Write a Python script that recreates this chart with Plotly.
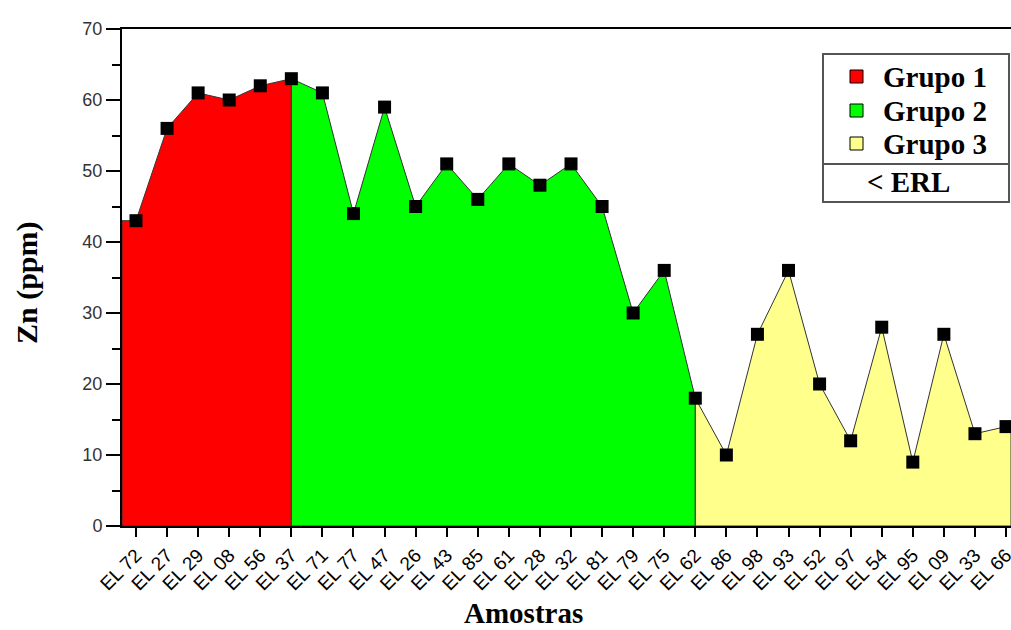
import plotly.graph_objects as go

# ---- data ----
samples = ["EL 72", "EL 27", "EL 29", "EL 08", "EL 56", "EL 37", "EL 71", "EL 77", "EL 47",
           "EL 26", "EL 43", "EL 85", "EL 61", "EL 28", "EL 32", "EL 81", "EL 79", "EL 75",
           "EL 62", "EL 86", "EL 98", "EL 93", "EL 52", "EL 97", "EL 54", "EL 95", "EL 09",
           "EL 33", "EL 66"]
zn_ppm = [43, 56, 61, 60, 62, 63, 61, 44, 59, 45, 51, 46, 51, 48, 51, 45, 30, 36,
          18, 10, 27, 36, 20, 12, 28, 9, 27, 13, 14]
group_names = ["Grupo 1", "Grupo 2", "Grupo 3"]
group_first = [0, 5, 18]     # first sample index of each group band
group_last = [5, 18, 28]     # last sample index of each group band
group_colors = ["#FF0000", "#00FF00", "#FFFF8C"]
y_ticks = [0, 10, 20, 30, 40, 50, 60, 70]

# ---- layout constants ----
X_LEFT, X_RIGHT = -0.45, 28.16
SERIF = "Liberation Serif, Times New Roman, serif"
SANS = "Liberation Sans, Arial, sans-serif"

W, H = 1011, 630
L, R, T, B = 122, 0, 29, 104
pw, ph = W - L - R, H - T - B


def px2paper(x, y):
    return (x - L) / pw, (H - B - y) / ph


fig = go.Figure()

xs_all = list(range(len(samples)))
for gi, name in enumerate(group_names):
    a, b = group_first[gi], group_last[gi]
    xs = xs_all[a:b + 1]
    ys = zn_ppm[a:b + 1]
    if gi == 0:
        xs = [X_LEFT] + xs
        ys = [ys[0]] + ys
    if gi == len(group_names) - 1:
        xs = xs + [X_RIGHT]
        ys = ys + [ys[-1]]
    px = [xs[0]] + xs + [xs[-1], xs[0]]
    py = [0] + ys + [0, 0]
    fig.add_trace(go.Scatter(
        x=px, y=py, mode="lines", fill="toself", fillcolor=group_colors[gi],
        line=dict(color="#333333", width=1), name=name, showlegend=False,
        hoverinfo="skip"))

fig.add_trace(go.Scatter(
    x=xs_all, y=zn_ppm, mode="markers",
    marker=dict(symbol="square", size=13, color="black", line=dict(width=0)),
    showlegend=False, cliponaxis=False))

fig.update_xaxes(
    range=[X_LEFT, X_RIGHT], tickmode="array", tickvals=xs_all, ticktext=samples,
    tickangle=-45, ticks="outside", ticklen=9, tickwidth=2, tickcolor="black",
    showline=True, linecolor="black", linewidth=1.5, mirror=True,
    showgrid=False, zeroline=False, automargin=False, ticklabeloverflow="allow",
    tickfont=dict(family=SANS, size=19, color="black"))
fig.update_yaxes(
    range=[0, 70], tickmode="array", tickvals=y_ticks,
    ticks="outside", ticklen=14, tickwidth=1.5, tickcolor="black",
    minor=dict(dtick=5, ticks="outside", ticklen=8, tickwidth=1.5, tickcolor="black"),
    showline=True, linecolor="black", linewidth=2,
    showgrid=False, zeroline=False, automargin=False,
    tickfont=dict(family=SANS, size=18, color="#333333"))

ann = []
xa, ya = px2paper(523, 613)
ann.append(dict(text="<b>Amostras</b>", x=xa, y=ya, xref="paper", yref="paper",
                showarrow=False, xanchor="center", yanchor="middle",
                font=dict(family=SERIF, size=29, color="black")))
xa, ya = px2paper(27, 283)
ann.append(dict(text="<b>Zn (ppm)</b>", textangle=-90, x=xa, y=ya, xref="paper",
                yref="paper", showarrow=False, xanchor="center", yanchor="middle",
                font=dict(family=SERIF, size=30, color="black")))

# legend box (manual, to reproduce the "< ERL" row)
shapes = []
bx0, by0 = px2paper(823, 54)
bx1, by1 = px2paper(1009, 202)
shapes.append(dict(type="rect", xref="paper", yref="paper", x0=bx0, y0=by1, x1=bx1, y1=by0,
                   line=dict(color="#555555", width=2), fillcolor="white", layer="above"))
dx0, dy = px2paper(823, 164)
shapes.append(dict(type="line", xref="paper", yref="paper", x0=bx0, y0=dy, x1=bx1, y1=dy,
                   line=dict(color="#555555", width=2), layer="above"))
entry_y = [77, 111, 144]
for gi, name in enumerate(group_names):
    sx0, sy0 = px2paper(850, entry_y[gi] - 7)
    sx1, sy1 = px2paper(863, entry_y[gi] + 6)
    shapes.append(dict(type="rect", xref="paper", yref="paper", x0=sx0, y0=sy1, x1=sx1, y1=sy0,
                       line=dict(color="black", width=1), fillcolor=group_colors[gi],
                       layer="above"))
    tx, ty = px2paper(881, entry_y[gi])
    ann.append(dict(text="<b>" + name + "</b>", x=tx, y=ty, xref="paper", yref="paper",
                    showarrow=False, xanchor="left", yanchor="middle",
                    font=dict(family=SERIF, size=29, color="black")))
tx, ty = px2paper(908, 182)
ann.append(dict(text="<b>&lt; ERL</b>", x=tx, y=ty, xref="paper", yref="paper",
                showarrow=False, xanchor="center", yanchor="middle",
                font=dict(family=SERIF, size=29, color="black")))

fig.update_layout(
    width=W, height=H, margin=dict(l=L, r=R, t=T, b=B, autoexpand=False),
    paper_bgcolor="white", plot_bgcolor="white",
    annotations=ann, shapes=shapes, showlegend=False)

fig.write_html("out.html", config={"displayModeBar": False},
               post_script="document.body.style.margin='0';"
                           "document.body.style.overflow='hidden';")
